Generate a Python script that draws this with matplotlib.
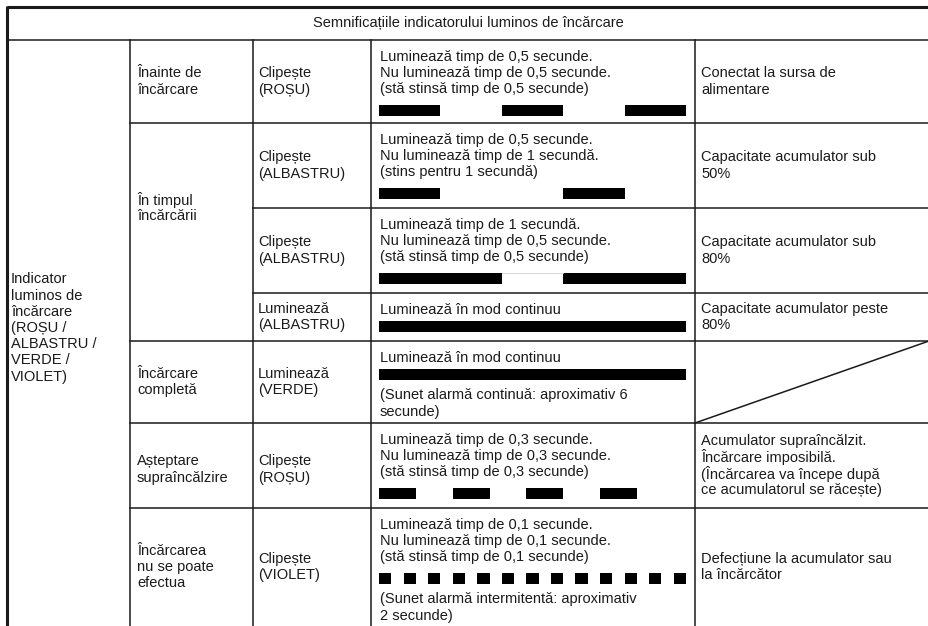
import matplotlib.pyplot as plt

plt.rcParams['font.family'] = ['Liberation Sans', 'DejaVu Sans']

# ---- table content ----
title = 'Semnificațiile indicatorului luminos de încărcare'
side_label = ['Indicator', 'luminos de', 'încărcare', '(ROȘU /', 'ALBASTRU /', 'VERDE /', 'VIOLET)']

stages = [['Înainte de', 'încărcare'],
          ['În timpul', 'încărcării'],
          ['Încărcare', 'completă'],
          ['Așteptare', 'supraîncălzire'],
          ['Încărcarea', 'nu se poate', 'efectua']]
# first and last row covered by each stage
stage_rows = [(0, 0), (1, 3), (4, 4), (5, 5), (6, 6)]

modes = [['Clipește', '(ROȘU)'],
         ['Clipește', '(ALBASTRU)'],
         ['Clipește', '(ALBASTRU)'],
         ['Luminează', '(ALBASTRU)'],
         ['Luminează', '(VERDE)'],
         ['Clipește', '(ROȘU)'],
         ['Clipește', '(VIOLET)']]

text_above = [['Luminează timp de 0,5 secunde.', 'Nu luminează timp de 0,5 secunde.', '(stă stinsă timp de 0,5 secunde)'],
              ['Luminează timp de 0,5 secunde.', 'Nu luminează timp de 1 secundă.', '(stins pentru 1 secundă)'],
              ['Luminează timp de 1 secundă.', 'Nu luminează timp de 0,5 secunde.', '(stă stinsă timp de 0,5 secunde)'],
              ['Luminează în mod continuu'],
              ['Luminează în mod continuu'],
              ['Luminează timp de 0,3 secunde.', 'Nu luminează timp de 0,3 secunde.', '(stă stinsă timp de 0,3 secunde)'],
              ['Luminează timp de 0,1 secunde.', 'Nu luminează timp de 0,1 secunde.', '(stă stinsă timp de 0,1 secunde)']]
text_below = [[], [], [], [],
              ['(Sunet alarmă continuă: aproximativ 6', 'secunde)'],
              [],
              ['(Sunet alarmă intermitentă: aproximativ', '2 secunde)']]

# blink pattern: seconds lit, seconds dark, number of flashes
t_on = [0.5, 0.5, 1.0, 2.5, 2.5, 0.3, 0.1]
t_off = [0.5, 1.0, 0.5, 0.0, 0.0, 0.3, 0.1]
flashes = [3, 2, 2, 1, 1, 4, 13]

meanings = [['Conectat la sursa de', 'alimentare'],
            ['Capacitate acumulator sub', '50%'],
            ['Capacitate acumulator sub', '80%'],
            ['Capacitate acumulator peste', '80%'],
            None,
            ['Acumulator supraîncălzit.', 'Încărcare imposibilă.', '(Încărcarea va începe după', 'ce acumulatorul se răcește)'],
            ['Defecțiune la acumulator sau', 'la încărcător']]

# ---- layout (pixels) ----
W, H = 929, 626
col_x = [7, 130, 253, 371, 695, W]
top_y = 7
row_y = [40, 123, 208, 293, 341, 423, 508, 626]
line_h = 16.2
pad_x = 7
px_per_s = 122.8
bar_h = 11
fs = 10.5
ink = '#1a1a1a'

fig = plt.figure(figsize=(W / 100, H / 100), dpi=100)
ax = fig.add_axes([0, 0, 1, 1])
ax.set_xlim(0, W)
ax.set_ylim(H, 0)
ax.axis('off')


def put_lines(x, yc, lines):
    y0 = yc - (len(lines) - 1) * line_h / 2
    for k, s in enumerate(lines):
        ax.text(x, y0 + k * line_h, s, fontsize=fs, color=ink, ha='left', va='center')


# grid
lw_in = 1.1
ax.plot([col_x[0], W], [top_y, top_y], color=ink, lw=2.2, solid_capstyle='butt')
ax.plot([col_x[0], col_x[0]], [top_y - 1, H], color=ink, lw=2.2, solid_capstyle='butt')
ax.plot([col_x[0], W], [row_y[0], row_y[0]], color=ink, lw=lw_in)
for cx in col_x[1:5]:
    ax.plot([cx, cx], [row_y[0], H], color=ink, lw=lw_in)
for i in range(1, len(row_y) - 1):
    starts_stage = any(a == i for a, b in stage_rows)
    x0 = col_x[1] if starts_stage else col_x[2]
    ax.plot([x0, W], [row_y[i], row_y[i]], color=ink, lw=lw_in)

# title
ax.text((col_x[0] + W) / 2, (top_y + row_y[0]) / 2, title, fontsize=fs, color=ink,
        ha='center', va='center')

# first column
put_lines(col_x[0] + 4, 328, side_label)

# stage column
for lines, (a, b) in zip(stages, stage_rows):
    if a == b:
        yc = (row_y[a] + row_y[a + 1]) / 2
    else:
        yc = (row_y[a] + row_y[a + 2]) / 2
    if a == 5:
        yc += 4
    put_lines(col_x[1] + pad_x, yc, lines)

for i in range(7):
    yt, yb = row_y[i], row_y[i + 1]
    yc = (yt + yb) / 2
    put_lines(col_x[2] + pad_x - 2, yc + (4 if i == 5 else 0), modes[i])

    # description + blink bar
    x_text = col_x[3] + 9
    y = yt + 17
    for s in text_above[i]:
        ax.text(x_text, y, s, fontsize=fs, color=ink, ha='left', va='center')
        y += line_h
    bar_c = y - line_h + (21 if len(text_above[i]) > 1 else 16.5)
    x0 = col_x[3] + 8
    period = t_on[i] + t_off[i]
    segs = [(x0 + k * period * px_per_s, t_on[i] * px_per_s) for k in range(flashes[i])]
    ax.broken_barh(segs, (bar_c - bar_h / 2, bar_h), facecolors='black', edgecolor='none')
    if i == 2:
        gx0 = x0 + t_on[i] * px_per_s
        ax.plot([gx0, gx0 + t_off[i] * px_per_s], [bar_c - bar_h / 2 + 0.5] * 2, color='#d0d0d0', lw=0.6)
    y = bar_c + 21
    for s in text_below[i]:
        ax.text(x_text, y, s, fontsize=fs, color=ink, ha='left', va='center')
        y += line_h

    # meaning column
    if meanings[i] is None:
        ax.plot([col_x[4], W], [yb, yt], color=ink, lw=lw_in)
    else:
        put_lines(col_x[4] + pad_x - 1, yc, meanings[i])

fig.savefig('out.png', dpi=100)
